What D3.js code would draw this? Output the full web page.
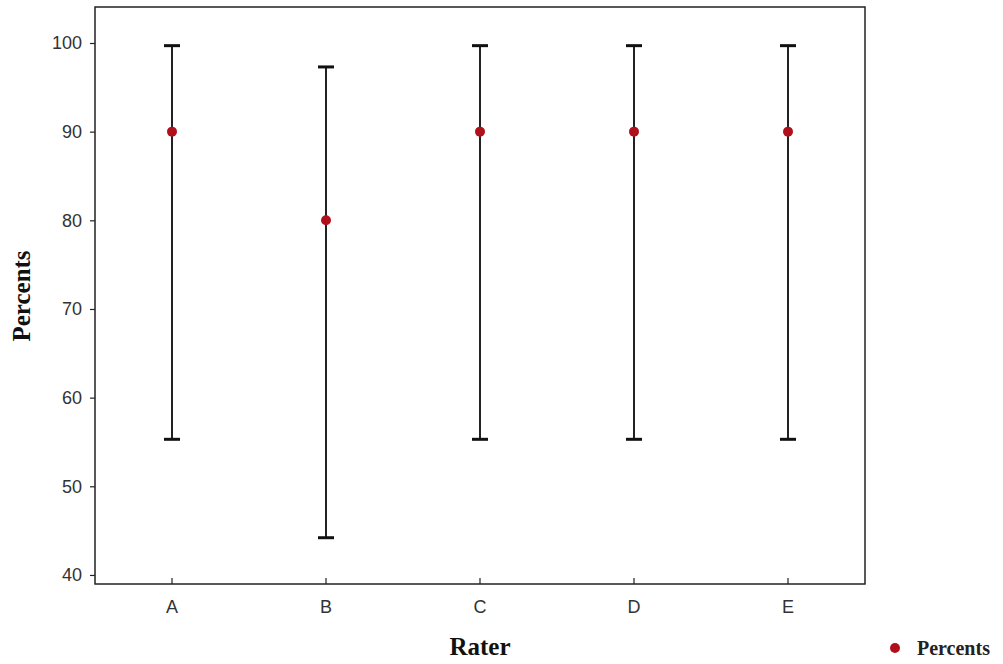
<!DOCTYPE html>
<html><head><meta charset="utf-8">
<script src="https://cdn.jsdelivr.net/npm/d3@7"></script>
<style>body{margin:0;background:#fff}</style>
</head><body>
<svg id="c" width="1003" height="664"></svg>
<script>
const categories = ["A","B","C","D","E"];
const means = [90, 80, 90, 90, 90];
const upper = [99.7, 97.3, 99.7, 99.7, 99.7];
const lower = [55.3, 44.2, 55.3, 55.3, 55.3];
const yTicks = [40, 50, 60, 70, 80, 90, 100];

const svg = d3.select("#c");
const L = 95, R = 865, T = 7, B = 584;
const x = d3.scaleBand().domain(categories).range([L, R]);
const y = d3.scaleLinear().domain([38.98, 104.06]).range([B, T]);

svg.append("rect").attr("x", L).attr("y", T).attr("width", R - L).attr("height", B - T)
  .attr("fill", "none").attr("stroke", "#222").attr("stroke-width", 1.5);

const yAxis = svg.append("g").attr("transform", `translate(${L},0)`)
  .call(d3.axisLeft(y).tickValues(yTicks).tickSize(5).tickPadding(8));
yAxis.select(".domain").remove();
yAxis.selectAll("line").attr("stroke", "#222").attr("stroke-width", 1.2);
yAxis.selectAll("text").attr("font-family", "Liberation Sans, Arial, sans-serif")
  .attr("font-size", 18).attr("fill", "#333");

const xAxis = svg.append("g").attr("transform", `translate(0,${B})`)
  .call(d3.axisBottom(x).tickSize(-6).tickPadding(16));
xAxis.select(".domain").remove();
xAxis.selectAll("line").attr("stroke", "#222").attr("stroke-width", 1.2);
xAxis.selectAll("text").attr("font-family", "Liberation Sans, Arial, sans-serif")
  .attr("font-size", 18).attr("fill", "#333");

const cx = d => x(d) + x.bandwidth() / 2;
const g = svg.append("g");
categories.forEach((c, i) => {
  g.append("line").attr("x1", cx(c)).attr("x2", cx(c)).attr("y1", y(upper[i])).attr("y2", y(lower[i]))
    .attr("stroke", "#222").attr("stroke-width", 2);
  [upper[i], lower[i]].forEach(v => {
    g.append("line").attr("x1", cx(c) - 8).attr("x2", cx(c) + 8).attr("y1", y(v)).attr("y2", y(v))
      .attr("stroke", "#111").attr("stroke-width", 3);
  });
  g.append("circle").attr("cx", cx(c)).attr("cy", y(means[i])).attr("r", 5).attr("fill", "#b0101c");
});

svg.append("text").attr("x", (L + R) / 2).attr("y", 655).attr("text-anchor", "middle")
  .attr("font-family", "Liberation Serif, Times New Roman, serif").attr("font-weight", "bold")
  .attr("font-size", 25).attr("fill", "#111").text("Rater");
svg.append("text").attr("transform", "translate(30,296) rotate(-90)").attr("text-anchor", "middle")
  .attr("font-family", "Liberation Serif, Times New Roman, serif").attr("font-weight", "bold")
  .attr("font-size", 25).attr("fill", "#111").text("Percents");

svg.append("circle").attr("cx", 895).attr("cy", 648).attr("r", 5).attr("fill", "#b0101c");
svg.append("text").attr("x", 917).attr("y", 655)
  .attr("font-family", "Liberation Serif, Times New Roman, serif").attr("font-weight", "bold")
  .attr("font-size", 20).attr("fill", "#222").text("Percents");
</script>
</body></html>
